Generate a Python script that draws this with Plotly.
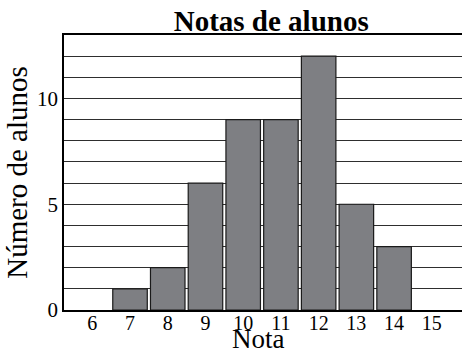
import plotly.graph_objects as go

# Grade distribution
notas = [6, 7, 8, 9, 10, 11, 12, 13, 14, 15]
alunos = [0, 1, 2, 6, 9, 9, 12, 5, 3, 0]

y_ticks = list(range(0, 14))
y_ticktext = [str(v) if v % 5 == 0 else "" for v in y_ticks]

serif = "Liberation Serif, Times New Roman, serif"

W, H = 462, 356
M_L, M_R, M_T, M_B = 64, 0, 35, 46
plot_w = W - M_L - M_R
plot_h = H - M_T - M_B

# no outline on empty bars so they don't thicken the baseline
outline_w = [1.2 if v > 0 else 0 for v in alunos]

fig = go.Figure(
    go.Bar(
        x=notas,
        y=alunos,
        marker=dict(color="#7e7f83", line=dict(color="#1a1a1a", width=outline_w)),
        hoverinfo="x+y",
    )
)

fig.update_layout(
    width=W,
    height=H,
    margin=dict(l=M_L, r=M_R, t=M_T, b=M_B),
    paper_bgcolor="white",
    plot_bgcolor="white",
    bargap=0.085,
    showlegend=False,
    font=dict(family=serif, color="black"),
    title=dict(
        text="<b>Notas de alunos</b>",
        font=dict(family=serif, size=29, color="black"),
        x=0.587,
        xref="container",
        xanchor="center",
        y=1 - 31 / H,
        yref="container",
        yanchor="bottom",
    ),
    annotations=[
        dict(
            text="Nota",
            x=(258 - M_L) / plot_w,
            xref="paper",
            xanchor="center",
            y=-M_B / plot_h,
            yref="paper",
            yanchor="bottom",
            yshift=0,
            showarrow=False,
            font=dict(family=serif, size=27, color="black"),
        )
    ],
)

fig.update_xaxes(
    range=[5.25, 15.8],
    tickmode="array",
    tickvals=notas,
    ticktext=[str(n) for n in notas],
    tickfont=dict(family=serif, size=20, color="black"),
    ticklabelstandoff=-6,
    ticks="",
    showgrid=False,
    showline=True,
    linecolor="black",
    linewidth=1.5,
    mirror=True,
    zeroline=False,
)

fig.update_yaxes(
    range=[0, 13],
    tickmode="array",
    tickvals=y_ticks,
    ticktext=y_ticktext,
    tickfont=dict(family=serif, size=21, color="black"),
    ticks="",
    showgrid=True,
    gridcolor="#2e2e2e",
    gridwidth=1,
    showline=True,
    linecolor="black",
    linewidth=1.5,
    zeroline=False,
    title=dict(text="Número de alunos", font=dict(family=serif, size=29, color="black"), standoff=1),
)

fig.write_html("out.html")
